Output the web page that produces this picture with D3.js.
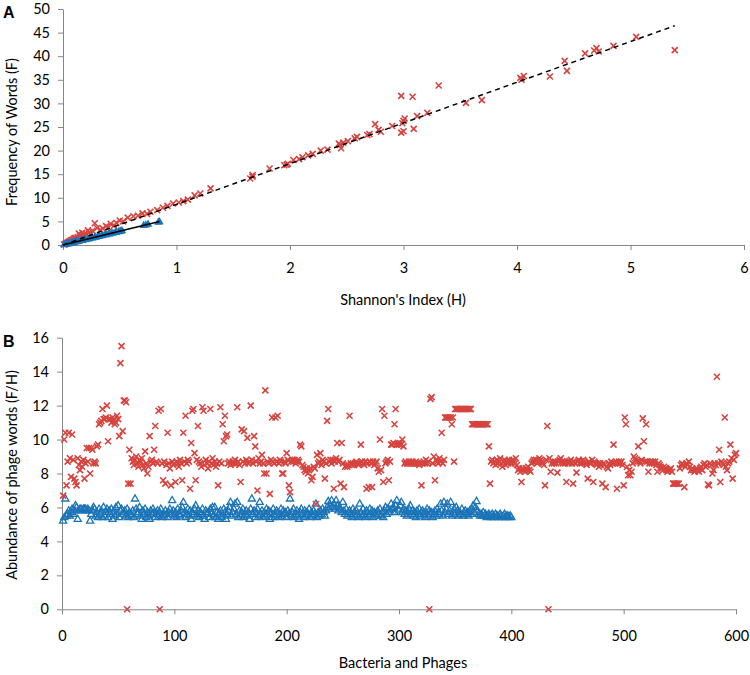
<!DOCTYPE html>
<html>
<head>
<meta charset="utf-8">
<script src="https://cdn.jsdelivr.net/npm/d3@7/dist/d3.min.js"></script>
<style>
    body { margin: 0; background: #fff; }
    svg { display: block; font-family: Lato, "Open Sans", sans-serif; }
    .axis path, .axis line { stroke: #868686; }
    .axis text { font-size: 14.5px; fill: #000; font-family: Lato, sans-serif; }
    .title { font-size: 14.5px; fill: #000; }
    .panel-label { font-family: "Liberation Sans", Arial, sans-serif; font-weight: bold; font-size: 16px; }
</style>
</head>
<body>
<svg id="chart" width="750" height="675"></svg>
<script>
// ---- panel A : Frequency of words (F) vs Shannon's index (H) ----
const H_TICKS = [0, 1, 2, 3, 4, 5, 6];
const F_TICKS = [0, 5, 10, 15, 20, 25, 30, 35, 40, 45, 50];

// bacteria (red crosses): [H, F]
const bacteriaHF = [
    [5.39,41.3],[5.05,44.1],[4.85,42.2],[4.70,41.7],[4.68,41.2],[4.72,41.0],[4.60,40.6],[4.42,39.0],
    [4.44,36.9],[4.29,35.7],[4.03,35.4],[4.06,35.8],[4.04,35.0],[3.69,30.7],[3.55,30.1],[3.31,33.8],
    [3.21,28.0],[3.12,27.3],[2.98,31.6],[3.08,31.4],[3.00,26.3],[3.01,26.8],[2.99,25.8],[2.98,23.8],
    [3.00,24.1],[3.09,24.6],[2.90,25.2],[2.75,25.6],[2.78,24.4],[2.80,24.0],[2.70,23.5],[2.68,23.3],
    [2.59,22.9],[2.57,22.6],[2.51,22.0],[2.47,21.7],[2.44,21.2],[2.45,20.5],[2.43,21.5],[2.33,20.2],
    [2.27,20.0],[2.20,19.3],[2.16,19.0],[2.11,18.6],[2.08,18.2],[2.03,18.0],[1.98,17.2],[1.95,16.9],
    [1.97,17.0],[1.82,16.2],[1.67,14.5],[1.65,14.1],[1.67,14.8],[1.30,12.0],[1.21,10.9],[1.16,10.5],
    [1.06,9.3],[0.97,8.8],[0.92,8.3],[0.83,7.4],[0.77,7.05],[0.70,6.7],[0.62,6.1],[0.57,5.8],
    [0.50,5.2],[0.47,4.7],[0.42,4.5],[0.28,4.6],[0.30,3.6],[0.38,4.0],[0.35,3.5],[0.26,3.0],
    [0.23,2.7],[0.20,2.4],[0.18,2.1],[0.15,2.0],[0.13,1.7],[0.11,1.5],[0.09,1.2],[0.07,1.0],
    [0.05,0.7],[0.03,0.4],[0.02,0.2],[0.01,0.1],[0.14,2.4],[0.17,2.6],[0.22,3.1],[0.10,1.4],
    [0.06,0.8],[0.04,0.5],[0.12,1.3],[0.24,2.3],[0.33,3.2],[0.40,3.7],[0.45,4.1],[0.08,1.0],
    [0.53,5.0],[0.66,6.2],[0.74,6.6],[0.88,7.9],[1.02,9.0],[1.10,9.6],[0.19,1.8],[0.16,1.6]
];

// phages (blue triangles): [H, F]
const phageHF = [
    [0.01,0.05],[0.02,0.12],[0.03,0.16],[0.04,0.24],[0.05,0.27],[0.06,0.35],[0.07,0.39],[0.08,0.47],
    [0.09,0.50],[0.10,0.58],[0.12,0.66],[0.13,0.76],[0.14,0.79],[0.16,0.92],[0.17,0.95],[0.19,1.10],
    [0.20,1.12],[0.22,1.27],[0.23,1.29],[0.25,1.44],[0.26,1.47],[0.28,1.61],[0.29,1.64],[0.31,1.78],
    [0.32,1.82],[0.34,1.95],[0.35,1.98],[0.37,2.13],[0.38,2.15],[0.40,2.30],[0.41,2.33],[0.43,2.47],
    [0.44,2.50],[0.46,2.64],[0.47,2.67],[0.49,2.81],[0.50,2.84],[0.51,2.95],[0.52,3.0],[0.71,4.1],
    [0.73,4.2],[0.75,4.4],[0.84,4.8],[0.85,4.9]
];

// trend lines (F = slope * H + intercept)
const bacteriaTrend = {slope: 8.62, intercept: 0.0};
const phageTrend = {slope: 5.85, intercept: 0.0};

// ---- panel B : abundance of phage words (F/H) per genome ----
const INDEX_TICKS = [0, 100, 200, 300, 400, 500, 600];
const FH_TICKS = [0, 2, 4, 6, 8, 10, 12, 14, 16];

// bacteria 1..600
const bacteriaFH = [
    6.7,10.0,10.4,7.3,8.7,10.4,8.9,7.8,10.3,8.8, 7.7,7.5,7.3,8.9,8.5,8.2,8.7,8.4,8.8,7.7,
    8.6,9.5,8.7,9.5,8.0,9.5,9.4,8.6,8.7,8.6, 9.6,9.7,10.9,11.0,11.1,11.8,11.2,11.2,11.3,12.0,
    9.9,11.2,11.2,11.0,11.3,11.1,10.9,11.0,11.4,11.2, 10.2,14.5,15.5,10.5,12.3,12.3,12.2,0,7.4,9.4,
    7.4,8.9,8.7,8.5,8.8,9.0,8.6,8.4,8.8,8.7, 8.9,8.5,8.3,9.3,8.6,8.0,8.4,10.2,8.7,8.8,
    8.6,9.4,10.8,8.7,8.6,11.7,0,11.8,8.6,7.6, 8.7,7.4,8.5,10.4,8.6,8.3,7.3,8.7,8.5,8.6,
    7.5,8.7,8.6,8.4,8.8,8.6,7.6,10.4,8.7,11.4, 8.6,8.8,8.7,7.1,9.8,11.7,11.8,9.2,7.6,8.8,
    10.8,8.7,8.6,8.4,11.9,11.7,8.5,8.8,8.6,8.3, 8.7,11.8,8.6,8.9,8.5,8.7,8.4,8.6,7.3,8.7,
    11.9,8.6,10.9,9.9,11.4,10.2,10.3,8.6,8.7,8.5, 8.6,8.7,8.6,8.8,8.6,11.9,8.7,8.5,7.5,10.6,
    8.7,10.5,8.6,8.8,10.1,8.6,8.7,12.0,8.8,8.6, 10.2,9.6,8.7,7.0,8.9,8.6,8.7,9.1,8.6,8.0,
    12.9,8.0,8.7,8.6,6.8,8.8,11.3,8.7,8.6,11.3, 8.7,11.4,8.6,8.8,8.7,8.0,8.0,8.7,8.6,9.2,
    8.8,7.3,6.9,8.7,8.8,8.7,8.8,8.6,8.7,8.8, 8.7,9.7,9.6,8.5,8.4,8.2,8.1,8.3,8.0,8.2,
    8.3,7.6,7.8,8.4,8.3,6.2,9.1,8.6,8.7,9.2, 8.5,8.8,8.7,7.7,8.6,11.1,11.8,8.7,8.8,8.6,
    8.8,7.1,8.7,8.9,9.8,8.7,8.8,7.4,9.8,8.6, 7.2,8.4,8.5,8.4,8.5,11.4,8.6,8.5,8.6,8.5,
    8.6,8.7,8.6,8.5,8.6,9.7,8.7,8.6,8.5,8.7, 7.1,8.6,7.2,8.7,8.6,7.2,8.7,8.5,8.6,8.7,
    8.3,8.1,10.0,8.2,11.8,7.5,11.4,8.6,8.7,8.8, 7.6,8.7,9.7,9.7,9.8,10.9,11.8,9.7,9.8,9.7,
    9.8,9.7,10.0,9.6,8.6,8.7,8.6,8.6,8.7,8.6, 8.6,8.7,8.6,8.6,8.7,8.6,8.6,8.5,8.6,7.3,
    8.6,8.7,8.6,8.8,8.6,8.7,0,12.4,12.5,8.6, 9.0,7.6,8.8,8.7,8.6,8.9,8.7,10.4,8.6,8.8,
    11.3,11.3,11.3,11.3,11.3,11.3,10.9,11.3,8.7,11.8, 11.8,11.8,11.8,11.8,11.8,11.8,11.8,11.8,11.8,11.8,
    11.8,11.8,11.8,11.8,10.9,10.9,10.9,10.9,10.9,10.9, 10.9,10.9,10.9,10.9,10.9,10.9,10.9,10.9,10.9,9.6,
    7.4,8.7,8.8,8.6,8.7,8.5,8.8,8.6,8.7,8.9, 8.6,8.4,8.7,8.8,8.5,8.7,8.6,8.8,8.7,8.6,
    8.8,8.7,8.6,8.9,8.5,8.2,8.3,8.1,7.5,8.3, 8.2,8.1,8.3,8.2,8.4,8.2,8.1,8.6,8.7,8.8,
    8.7,8.8,8.6,8.7,8.9,8.8,8.7,8.6,8.5,7.3, 8.8,10.8,0,8.9,8.1,8.6,8.7,8.6,8.7,8.6,
    8.05,8.7,8.8,8.9,8.7,8.6,8.7,8.6,7.5,8.7, 8.6,8.7,8.8,8.6,7.4,8.7,8.6,8.05,8.7,8.8,
    8.6,8.7,8.6,8.8,8.7,8.6,8.5,7.7,8.7,8.6, 8.6,8.8,7.5,8.7,8.6,8.5,8.6,8.4,8.6,8.5,
    7.4,8.6,8.5,7.2,8.4,8.3,8.6,8.5,8.7,8.6, 9.7,8.6,8.7,7.1,8.6,8.7,8.6,8.7,8.5,7.3,
    11.3,10.9,8.4,7.9,8.2,7.9,8.1,8.6,9.0,8.9, 8.8,8.7,9.6,8.7,8.6,8.8,11.25,9.9,8.7,10.9,
    8.7,8.1,8.6,8.7,8.6,8.7,8.6,8.7,8.5,8.1, 8.6,8.5,8.4,8.3,8.2,8.4,8.3,8.2,8.1,8.2,
    8.2,8.3,8.1,7.4,7.4,7.4,7.4,7.4,7.4,8.3, 8.5,8.6,8.5,7.2,8.4,8.6,8.5,8.7,8.4,8.2,
    8.3,8.2,8.1,8.2,8.3,8.2,8.1,8.3,8.4,8.2, 8.5,8.6,8.4,8.5,7.35,7.3,8.6,8.5,8.0,8.2,
    8.6,8.5,13.7,8.6,9.4,7.5,8.7,8.6,8.5,11.3, 8.4,8.2,8.6,8.7,9.7,8.9,7.7,8.8,9.1,9.2
];

// phages 1..400
const phageFH = [
    5.2,5.4,6.5,5.5,5.6,5.8,5.5,5.7,5.9,5.6, 5.8,6.1,6.0,5.3,5.8,5.9,5.9,5.8,5.9,5.9,
    5.9,5.8,5.9,5.8,5.2,5.6,5.8,6.0,5.9,5.5, 5.7,5.4,5.9,5.6,5.8,5.4,6.0,5.5,5.7,5.9,
    5.4,5.8,5.6,5.9,5.3,5.7,5.5,6.0,5.6,6.1, 5.4,5.8,5.9,5.6,5.7,5.8,5.5,5.9,5.4,5.7,
    5.6,5.5,5.8,5.4,6.5,5.9,5.6,5.7,6.0,5.5, 5.3,5.8,5.6,5.9,5.4,5.7,5.5,5.3,5.8,5.6,
    5.9,5.7,5.4,5.6,5.8,5.5,5.7,5.9,5.4,5.6, 5.5,5.8,5.6,5.4,5.7,5.9,5.6,6.4,5.8,5.5,
    5.7,5.4,5.9,5.6,5.5,5.8,6.0,6.3,5.7,5.4, 5.6,5.9,5.5,5.8,5.3,5.7,5.6,5.9,6.1,5.5,
    5.8,5.4,5.7,5.6,5.9,5.5,5.3,5.8,5.6,5.7, 5.4,5.9,5.6,6.0,5.5,6.0,5.4,5.7,5.3,5.6,
    5.8,5.4,5.5,5.9,5.7,5.3,5.6,5.8,6.0,6.3, 5.5,5.7,5.9,6.2,5.6,6.3,5.4,5.8,5.5,5.7,
    5.9,5.4,5.6,5.8,5.5,5.7,5.3,5.9,6.5,5.6, 5.8,5.4,5.7,5.9,5.5,6.3,5.6,5.8,5.4,5.7,
    5.5,5.9,5.6,5.8,5.3,5.7,5.4,5.9,5.6,5.5, 5.8,5.7,5.4,5.6,5.9,5.5,5.8,5.6,5.7,5.4,
    5.8,5.6,6.5,5.5,5.7,5.9,5.4,5.6,5.8,5.5, 5.3,5.7,5.9,5.6,5.4,5.8,5.5,5.7,5.6,5.9,
    5.4,5.7,5.5,5.8,5.6,6.2,5.4,5.7,5.5,5.8, 5.6,5.9,5.7,5.5,5.8,6.0,6.35,5.9,6.1,6.4,
    6.0,6.2,5.9,6.4,6.1,5.8,6.0,5.9,5.7,6.3, 5.8,5.6,5.9,5.5,5.7,5.8,5.6,5.4,5.9,5.7,
    5.5,5.8,5.6,5.4,6.2,5.7,5.5,5.9,5.6,5.4, 5.8,5.7,5.5,5.9,5.6,5.8,5.4,5.7,5.6,5.5,
    5.8,5.6,5.9,5.5,5.7,5.4,5.8,6.0,5.6,5.9, 5.7,5.8,6.2,5.9,6.0,5.7,6.1,6.4,5.9,5.8,
    6.1,6.3,5.7,5.9,5.6,5.8,5.5,5.7,5.9,6.1, 5.6,5.8,5.5,5.7,5.4,5.8,5.6,5.9,5.5,5.7,
    5.8,5.6,5.4,5.7,5.9,5.5,5.8,5.6,5.7,5.4, 5.6,5.8,5.5,5.9,5.7,5.6,6.2,5.8,5.5,6.3,
    5.7,5.9,6.2,5.6,5.8,6.3,5.5,5.7,5.9,5.6, 6.0,5.8,5.5,5.7,5.6,5.9,5.5,5.7,5.8,5.6,
    5.7,5.5,5.8,5.6,5.9,6.1,5.7,6.0,6.35,5.8, 5.6,5.5,5.6,5.5,5.7,5.5,5.6,5.4,5.5,5.6,
    5.5,5.4,5.6,5.5,5.4,5.6,5.5,5.5,5.4,5.6, 5.5,5.4,5.5,5.6,5.4,5.5,5.5,5.4,5.5,5.4
];

const RED = "#d6443f";
const BLUE = "#1b74b8";

const svg = d3.select("#chart");

const crossPath = "M-3,-3L3,3M3,-3L-3,3";

function drawAxes(g, x, y, xTicks, yTicks, xPad){
    g.append("g")
        .attr("class", "axis axis-x")
        .attr("transform", `translate(0,${y.range()[0]})`)
        .call(d3.axisBottom(x).tickValues(xTicks).tickFormat(d3.format("d"))
            .tickSize(5).tickSizeOuter(0).tickPadding(xPad));
    g.append("g")
        .attr("class", "axis axis-y")
        .attr("transform", `translate(${x.range()[0]},0)`)
        .call(d3.axisLeft(y).tickValues(yTicks).tickFormat(d3.format("d"))
            .tickSize(5).tickSizeOuter(0).tickPadding(8));
}

// ---------------- panel A ----------------
let xA = d3.scaleLinear().domain([0, 6]).range([63, 744]),
    yA = d3.scaleLinear().domain([0, 50]).range([245, 9]);

let gA = svg.append("g");
drawAxes(gA, xA, yA, H_TICKS, F_TICKS, 13);

gA.selectAll("path.red-a")
    .data(bacteriaHF)
    .enter().append("path")
        .attr("class", "red-a")
        .attr("d", crossPath)
        .attr("transform", d => `translate(${xA(d[0])},${yA(d[1])})`)
        .style("stroke", RED)
        .style("stroke-width", 1.6)
        .style("fill", "none");

gA.selectAll("path.blue-a")
    .data(phageHF)
    .enter().append("path")
        .attr("class", "blue-a")
        .attr("d", d3.symbol(d3.symbolTriangle, 30))
        .attr("transform", d => `translate(${xA(d[0])},${yA(d[1])})`)
        .style("fill", BLUE);

// trend lines over each series' H range
function trendLine(data, t){
    let hi = d3.max(data, d => d[0]);
    return [[0, t.intercept], [hi, t.slope * hi + t.intercept]];
}
let line = d3.line().x(d => xA(d[0])).y(d => yA(d[1]));

gA.append("path")
    .attr("d", line(trendLine(bacteriaHF, bacteriaTrend)))
    .style("stroke", "#000").style("stroke-width", 1.5)
    .style("stroke-dasharray", "5,4").style("fill", "none");

gA.append("path")
    .attr("d", line(trendLine(phageHF, phageTrend)))
    .style("stroke", "#000").style("stroke-width", 1.5).style("fill", "none");

gA.append("text").attr("class", "title")
    .attr("x", 403).attr("y", 305).attr("text-anchor", "middle")
    .text("Shannon's Index (H)");
gA.append("text").attr("class", "title")
    .attr("transform", "translate(17,132) rotate(-90)").attr("text-anchor", "middle")
    .text("Frequency of Words (F)");
svg.append("text").attr("class", "panel-label").attr("x", 3).attr("y", 18).text("A");

// ---------------- panel B ----------------
let xB = d3.scaleLinear().domain([0, 600]).range([62, 736]),
    yB = d3.scaleLinear().domain([0, 16]).range([609.3, 337.7]);

let gB = svg.append("g");
drawAxes(gB, xB, yB, INDEX_TICKS, FH_TICKS, 16);

gB.selectAll("path.blue-b")
    .data(phageFH)
    .enter().append("path")
        .attr("class", "blue-b")
        .attr("d", d3.symbol(d3.symbolTriangle, 22))
        .attr("transform", (d, i) => `translate(${xB(i + 1)},${yB(d)})`)
        .style("fill", "none")
        .style("stroke", BLUE)
        .style("stroke-width", 1.3);

gB.selectAll("path.red-b")
    .data(bacteriaFH)
    .enter().append("path")
        .attr("class", "red-b")
        .attr("d", crossPath)
        .attr("transform", (d, i) => `translate(${xB(i + 1)},${yB(d)})`)
        .style("stroke", RED)
        .style("stroke-width", 1.6)
        .style("fill", "none");

gB.append("text").attr("class", "title")
    .attr("x", 403).attr("y", 668).attr("text-anchor", "middle")
    .text("Bacteria and Phages");
gB.append("text").attr("class", "title")
    .attr("transform", "translate(17,475) rotate(-90)").attr("text-anchor", "middle")
    .text("Abundance of phage words (F/H)");
svg.append("text").attr("class", "panel-label").attr("x", 3).attr("y", 347).text("B");
</script>
</body>
</html>
